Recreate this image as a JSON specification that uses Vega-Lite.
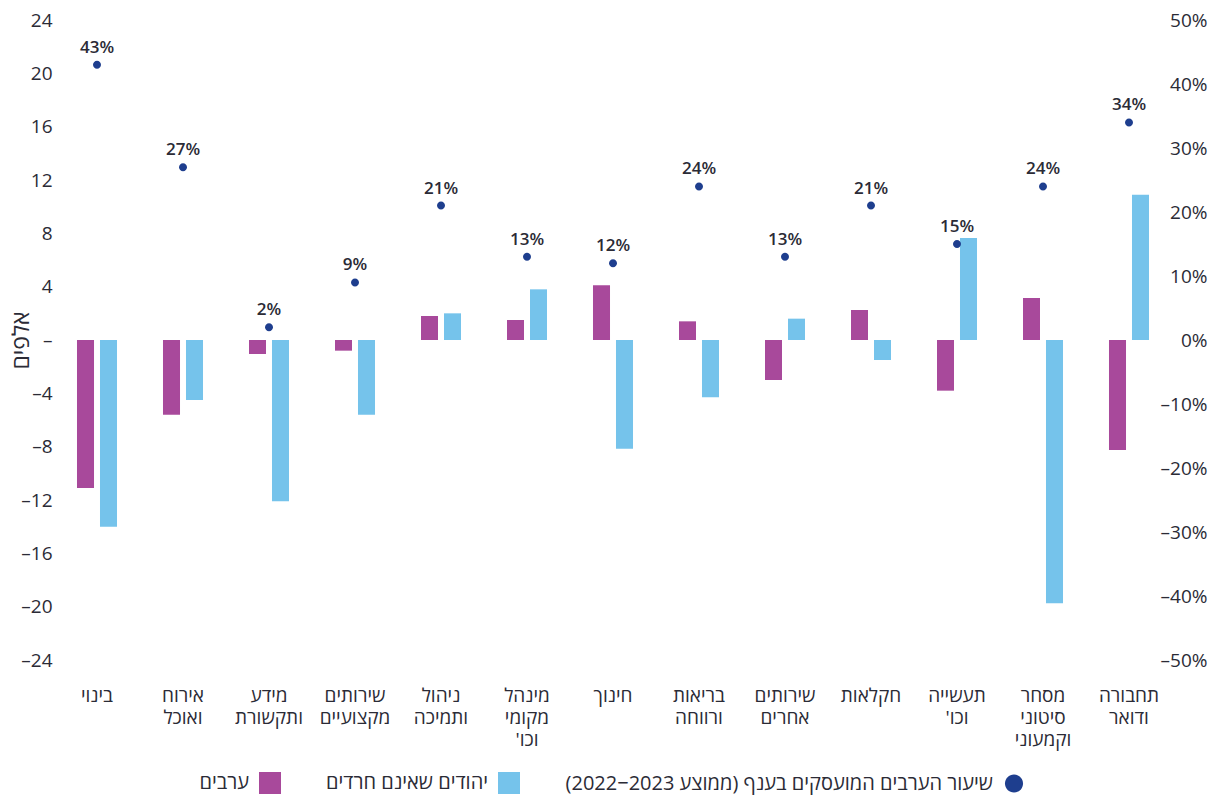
{
  "$schema": "https://vega.github.io/schema/vega-lite/v6.json",
  "autosize": "none",
  "width": 1118,
  "height": 640,
  "padding": {"left": 54, "top": 20, "right": 37, "bottom": 135},
  "background": "white",
  "config": {
    "font": "Open Sans, DejaVu Sans",
    "view": {"stroke": null},
    "axis": {"grid": false, "domain": false, "ticks": false, "labelColor": "#2b2b36", "titleColor": "#2b2b36"}
  },
  "data": {
    "values": [
      {"cat": "בינוי", "series": "ערבים", "value": -11.1},
      {"cat": "בינוי", "series": "יהודים שאינם חרדים", "value": -14.0},
      {"cat": "בינוי", "series": "שיעור הערבים המועסקים בענף (ממוצע 2022–2023)", "value": 0.43},
      {"cat": "אירוח ואוכל", "series": "ערבים", "value": -5.6},
      {"cat": "אירוח ואוכל", "series": "יהודים שאינם חרדים", "value": -4.5},
      {"cat": "אירוח ואוכל", "series": "שיעור הערבים המועסקים בענף (ממוצע 2022–2023)", "value": 0.27},
      {"cat": "מידע ותקשורת", "series": "ערבים", "value": -1.05},
      {"cat": "מידע ותקשורת", "series": "יהודים שאינם חרדים", "value": -12.1},
      {"cat": "מידע ותקשורת", "series": "שיעור הערבים המועסקים בענף (ממוצע 2022–2023)", "value": 0.02},
      {"cat": "שירותים מקצועיים", "series": "ערבים", "value": -0.8},
      {"cat": "שירותים מקצועיים", "series": "יהודים שאינם חרדים", "value": -5.6},
      {"cat": "שירותים מקצועיים", "series": "שיעור הערבים המועסקים בענף (ממוצע 2022–2023)", "value": 0.09},
      {"cat": "ניהול ותמיכה", "series": "ערבים", "value": 1.8},
      {"cat": "ניהול ותמיכה", "series": "יהודים שאינם חרדים", "value": 2.0},
      {"cat": "ניהול ותמיכה", "series": "שיעור הערבים המועסקים בענף (ממוצע 2022–2023)", "value": 0.21},
      {"cat": "מינהל מקומי וכו'", "series": "ערבים", "value": 1.5},
      {"cat": "מינהל מקומי וכו'", "series": "יהודים שאינם חרדים", "value": 3.8},
      {"cat": "מינהל מקומי וכו'", "series": "שיעור הערבים המועסקים בענף (ממוצע 2022–2023)", "value": 0.13},
      {"cat": "חינוך", "series": "ערבים", "value": 4.1},
      {"cat": "חינוך", "series": "יהודים שאינם חרדים", "value": -8.15},
      {"cat": "חינוך", "series": "שיעור הערבים המועסקים בענף (ממוצע 2022–2023)", "value": 0.12},
      {"cat": "בריאות ורווחה", "series": "ערבים", "value": 1.4},
      {"cat": "בריאות ורווחה", "series": "יהודים שאינם חרדים", "value": -4.3},
      {"cat": "בריאות ורווחה", "series": "שיעור הערבים המועסקים בענף (ממוצע 2022–2023)", "value": 0.24},
      {"cat": "שירותים אחרים", "series": "ערבים", "value": -3.0},
      {"cat": "שירותים אחרים", "series": "יהודים שאינם חרדים", "value": 1.6},
      {"cat": "שירותים אחרים", "series": "שיעור הערבים המועסקים בענף (ממוצע 2022–2023)", "value": 0.13},
      {"cat": "חקלאות", "series": "ערבים", "value": 2.25},
      {"cat": "חקלאות", "series": "יהודים שאינם חרדים", "value": -1.5},
      {"cat": "חקלאות", "series": "שיעור הערבים המועסקים בענף (ממוצע 2022–2023)", "value": 0.21},
      {"cat": "תעשייה וכו'", "series": "ערבים", "value": -3.8},
      {"cat": "תעשייה וכו'", "series": "יהודים שאינם חרדים", "value": 7.65},
      {"cat": "תעשייה וכו'", "series": "שיעור הערבים המועסקים בענף (ממוצע 2022–2023)", "value": 0.15},
      {"cat": "מסחר סיטוני וקמעוני", "series": "ערבים", "value": 3.15},
      {"cat": "מסחר סיטוני וקמעוני", "series": "יהודים שאינם חרדים", "value": -19.75},
      {"cat": "מסחר סיטוני וקמעוני", "series": "שיעור הערבים המועסקים בענף (ממוצע 2022–2023)", "value": 0.24},
      {"cat": "תחבורה ודואר", "series": "ערבים", "value": -8.25},
      {"cat": "תחבורה ודואר", "series": "יהודים שאינם חרדים", "value": 10.9},
      {"cat": "תחבורה ודואר", "series": "שיעור הערבים המועסקים בענף (ממוצע 2022–2023)", "value": 0.34}
    ]
  },
  "encoding": {
    "x": {
      "field": "cat",
      "type": "nominal",
      "sort": null,
      "scale": {"paddingInner": 0, "paddingOuter": 0},
      "axis": {
        "title": null,
        "labelAngle": 0,
        "labelFontSize": 19,
        "labelLineHeight": 22,
        "labelPadding": 26,
        "labelBaseline": "top",
        "labelExpr": "split(replace(datum.label, \"וכו'\", \"'וכו\"), ' ')"
      }
    },
    "color": {
      "field": "series",
      "type": "nominal",
      "scale": {
        "domain": ["ערבים", "יהודים שאינם חרדים", "שיעור הערבים המועסקים בענף (ממוצע 2022–2023)"],
        "range": ["#a8499b", "#75c3eb", "#1e3e8e"]
      },
      "legend": {
        "title": null,
        "orient": "none",
        "legendX": 205,
        "legendY": 752,
        "direction": "horizontal",
        "labelFontSize": 20,
        "labelColor": "#2b2b36",
        "labelAlign": "right",
        "labelOffset": -32,
        "symbolSize": 484,
        "symbolStrokeWidth": 0,
        "columnPadding": 45,
        "labelLimit": 600,
        "labelExpr": "replace(datum.label, '–', '\u2212') + '\u200f'"
      }
    }
  },
  "layer": [
    {
      "layer": [
        {
          "mark": {"type": "rule", "color": "#d3d3d3", "strokeWidth": 2},
          "encoding": {"y": {"datum": 0, "type": "quantitative"}}
        },
        {
          "transform": [{"filter": "datum.series !== 'שיעור הערבים המועסקים בענף (ממוצע 2022–2023)'"}],
          "mark": {"type": "bar"},
          "encoding": {
            "xOffset": {
              "field": "series",
              "type": "nominal",
              "scale": {"domain": ["ערבים", "יהודים שאינם חרדים"], "paddingInner": 0.26, "paddingOuter": 1.25}
            },
            "y": {
              "field": "value",
              "type": "quantitative",
              "scale": {"domain": [-24, 24], "nice": false, "zero": false},
              "axis": {
                "orient": "left",
                "values": [-24, -20, -16, -12, -8, -4, 0, 4, 8, 12, 16, 20, 24],
                "labelFontSize": 19,
                "labelPadding": 2,
                "labelExpr": "datum.value == 0 ? '–' : replace(datum.label, '−', '–')",
                "title": "אלפים",
                "titleFontSize": 23,
                "titleFontWeight": "normal",
                "titleX": -26,
                "titleY": 320,
                "titleAngle": -90,
                "titleAlign": "center",
                "titleBaseline": "alphabetic"
              }
            }
          }
        }
      ]
    },
    {
      "transform": [{"filter": "datum.series === 'שיעור הערבים המועסקים בענף (ממוצע 2022–2023)'"}],
      "encoding": {
        "y": {
          "field": "value",
          "type": "quantitative",
          "scale": {"domain": [-0.5, 0.5], "nice": false, "zero": false},
          "axis": {
            "orient": "right",
            "values": [-0.5, -0.4, -0.3, -0.2, -0.1, 0, 0.1, 0.2, 0.3, 0.4, 0.5],
            "format": ".0%",
            "labelFontSize": 19,
            "labelAlign": "right",
            "labelPadding": 35,
            "labelExpr": "replace(datum.label, '−', '–')",
            "title": null
          }
        }
      },
      "layer": [
        {
          "mark": {"type": "point", "filled": true, "opacity": 1, "size": 95},
          "encoding": {
            "shape": {
              "field": "series",
              "type": "nominal",
              "scale": {
                "domain": ["ערבים", "יהודים שאינם חרדים", "שיעור הערבים המועסקים בענף (ממוצע 2022–2023)"],
                "range": ["square", "square", "M0.82,0A0.82,0.82,0,1,1,-0.82,0A0.82,0.82,0,1,1,0.82,0Z"]
              },
              "legend": {
                "title": null,
                "orient": "none",
                "legendX": 205,
                "legendY": 752,
                "direction": "horizontal",
                "labelFontSize": 20,
                "labelColor": "#2b2b36",
                "labelAlign": "right",
                "labelOffset": -32,
                "symbolSize": 484,
                "symbolStrokeWidth": 0,
                "columnPadding": 45,
                "labelLimit": 600,
                "labelExpr": "replace(datum.label, '–', '\u2212') + '\u200f'"
              }
            }
          }
        },
        {
          "mark": {"type": "text", "baseline": "alphabetic", "dy": -12, "fontSize": 17, "fontWeight": 600, "color": "#2b2b36"},
          "encoding": {
            "text": {"field": "value", "type": "quantitative", "format": ".0%"},
            "color": {"value": "#2b2b36"}
          }
        }
      ]
    }
  ],
  "resolve": {"scale": {"y": "independent"}}
}
